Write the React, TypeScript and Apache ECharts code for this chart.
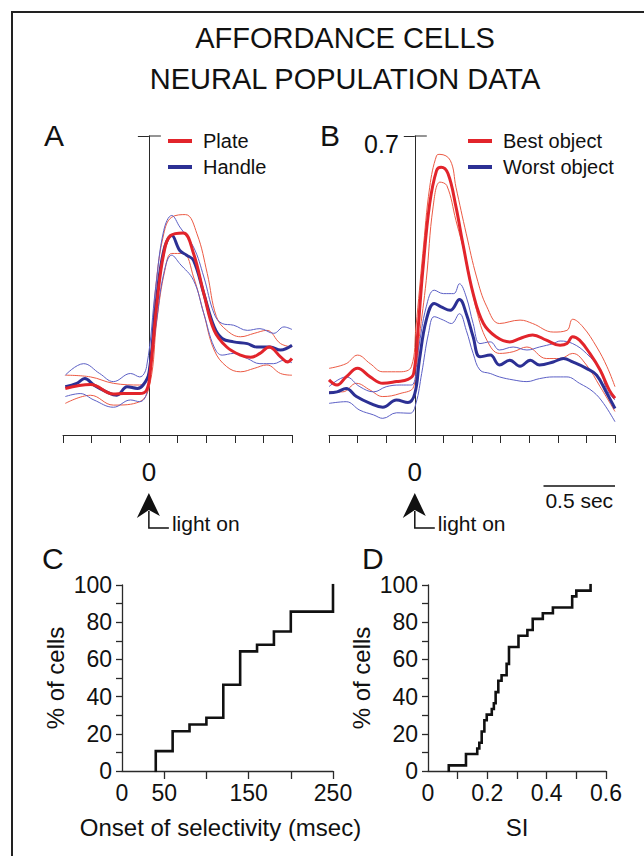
import React, { useEffect, useRef } from 'react';
import * as echarts from 'echarts';

const FONT = '"Liberation Sans", Arial, Helvetica, sans-serif';
const INK = '#111111';
const AXIS = '#2a2a2a';
const RED = '#e2242b';
const RED_THIN = '#ec5a44';
const BLUE = '#2c3094';
const BLUE_THIN = '#5c60c6';

type P = [number, number];

// ---- Panel A: time from light on (ms), population activity ----
const A_plate: P[] = [[-584,0.109],[-408,0.118],[-248,0.096],[-176,0.097],[-64,0.097],[-16,0.105],[8,0.144],[56,0.308],[104,0.425],[152,0.467],[240,0.473],[312,0.425],[384,0.331],[456,0.245],[544,0.206],[640,0.187],[712,0.182],[776,0.191],[840,0.206],[920,0.183],[968,0.171],[1000,0.179]];
const A_plateHi: P[] = [[-584,0.140],[-408,0.136],[-248,0.121],[-64,0.117],[0,0.152],[48,0.347],[104,0.471],[160,0.510],[256,0.516],[336,0.471],[408,0.378],[472,0.277],[544,0.245],[640,0.230],[736,0.238],[824,0.245],[920,0.214],[1000,0.206]];
const A_plateLo: P[] = [[-584,0.074],[-408,0.093],[-248,0.070],[-64,0.078],[8,0.121],[56,0.269],[112,0.386],[160,0.425],[240,0.425],[312,0.370],[384,0.284],[456,0.199],[544,0.160],[640,0.148],[736,0.156],[824,0.164],[920,0.144],[1000,0.140]];
const A_handle: P[] = [[-584,0.113],[-504,0.121],[-448,0.132],[-384,0.117],[-296,0.101],[-224,0.093],[-152,0.113],[-80,0.109],[-40,0.117],[0,0.144],[48,0.300],[104,0.432],[160,0.467],[216,0.432],[264,0.421],[312,0.409],[384,0.331],[456,0.253],[512,0.226],[592,0.218],[688,0.214],[752,0.206],[848,0.206],[920,0.199],[1000,0.210]];
const A_handleHi: P[] = [[-584,0.140],[-456,0.167],[-344,0.144],[-248,0.125],[-128,0.144],[-64,0.136],[-16,0.160],[48,0.347],[104,0.479],[160,0.514],[216,0.487],[312,0.440],[384,0.370],[456,0.284],[512,0.261],[592,0.257],[688,0.245],[776,0.249],[872,0.238],[944,0.253],[1000,0.247]];
const A_handleLo: P[] = [[-584,0.090],[-480,0.097],[-384,0.082],[-248,0.065],[-128,0.082],[-64,0.078],[-16,0.097],[48,0.253],[104,0.378],[160,0.421],[216,0.401],[312,0.362],[384,0.284],[456,0.206],[512,0.187],[592,0.191],[688,0.179],[776,0.167],[872,0.167],[944,0.175],[1000,0.169]];

// ---- Panel B ----
const B_best: P[] = [[-600,0.129],[-544,0.117],[-480,0.136],[-400,0.156],[-312,0.136],[-224,0.121],[-128,0.125],[-48,0.130],[-8,0.144],[24,0.253],[56,0.386],[104,0.541],[152,0.619],[184,0.627],[232,0.612],[288,0.534],[336,0.448],[408,0.331],[480,0.261],[568,0.230],[664,0.218],[736,0.226],[824,0.234],[920,0.222],[1016,0.210],[1064,0.214],[1104,0.230],[1152,0.222],[1224,0.191],[1296,0.152],[1360,0.105],[1400,0.086]];
const B_bestHi: P[] = [[-600,0.156],[-480,0.167],[-400,0.187],[-312,0.167],[-224,0.148],[-104,0.148],[-24,0.160],[8,0.253],[56,0.425],[104,0.580],[152,0.654],[176,0.657],[248,0.643],[288,0.580],[360,0.471],[432,0.370],[504,0.300],[592,0.261],[736,0.269],[824,0.261],[968,0.241],[1064,0.245],[1104,0.271],[1176,0.253],[1272,0.206],[1344,0.160],[1400,0.113]];
const B_bestLo: P[] = [[-600,0.101],[-504,0.101],[-408,0.121],[-312,0.105],[-224,0.090],[-104,0.097],[-8,0.113],[32,0.230],[80,0.362],[128,0.534],[176,0.592],[224,0.584],[288,0.502],[360,0.409],[432,0.292],[504,0.222],[592,0.191],[688,0.195],[784,0.206],[920,0.179],[1016,0.179],[1104,0.191],[1200,0.164],[1296,0.113],[1400,0.055]];
const B_worst: P[] = [[-600,0.099],[-544,0.101],[-480,0.109],[-408,0.090],[-312,0.074],[-224,0.065],[-128,0.082],[-48,0.076],[0,0.097],[32,0.175],[80,0.269],[136,0.308],[184,0.300],[248,0.292],[312,0.317],[360,0.284],[408,0.230],[456,0.183],[528,0.187],[592,0.164],[664,0.175],[736,0.161],[808,0.175],[872,0.164],[968,0.171],[1040,0.179],[1104,0.171],[1200,0.156],[1272,0.140],[1344,0.097],[1400,0.062]];
const B_worstHi: P[] = [[-600,0.113],[-480,0.136],[-384,0.113],[-288,0.101],[-200,0.113],[-104,0.117],[-24,0.117],[24,0.199],[80,0.300],[136,0.339],[200,0.331],[272,0.331],[312,0.354],[360,0.323],[408,0.261],[456,0.214],[528,0.218],[592,0.199],[688,0.206],[784,0.199],[872,0.206],[968,0.214],[1016,0.220],[1104,0.214],[1200,0.191],[1296,0.152],[1344,0.105],[1400,0.082]];
const B_worstLo: P[] = [[-600,0.074],[-480,0.078],[-384,0.058],[-288,0.047],[-224,0.039],[-128,0.052],[-32,0.051],[8,0.074],[48,0.144],[96,0.238],[136,0.277],[200,0.269],[256,0.261],[312,0.284],[360,0.245],[408,0.191],[456,0.152],[528,0.144],[592,0.136],[688,0.129],[784,0.125],[872,0.132],[968,0.136],[1064,0.136],[1152,0.121],[1248,0.101],[1320,0.074],[1400,0.031]];

// ---- Panel C: cumulative onset of selectivity ----
const C_onset = [40, 60, 80, 100, 120, 140, 160, 180, 200, 250];
const C_pct = [10.7, 21.4, 25.0, 28.6, 46.4, 64.3, 67.9, 75.0, 85.7, 100];

// ---- Panel D: cumulative selectivity index ----
const D_si = [0.07, 0.128, 0.166, 0.173, 0.181, 0.19, 0.198, 0.215, 0.222, 0.228, 0.237, 0.248, 0.265, 0.273, 0.305, 0.335, 0.353, 0.387, 0.421, 0.486, 0.5, 0.548];
const D_pct = [3.0, 9.1, 12.1, 15.2, 21.2, 27.3, 30.3, 33.3, 36.4, 42.4, 48.5, 51.5, 57.6, 66.7, 72.7, 75.8, 81.8, 84.8, 87.9, 93.9, 97.0, 100];

// tick / label values
const A_ticksX = { min: -600, max: 1000, interval: 200 };
const B_ticksX = { min: -600, max: 1400, interval: 200 };
const AB_yTop = 0.7;
const C_xTicks = [50, 100, 150, 200, 250];
const C_xLabels = [0, 50, 150, 250];
const D_xTicks = [0.1, 0.2, 0.3, 0.4, 0.5, 0.6];
const D_xLabels = [0, 0.2, 0.4, 0.6];
const CD_yLabels = [0, 20, 40, 60, 80, 100];
const SCALE_BAR_MS = [900, 1400];

const cum = (xs: number[], ys: number[]): P[] => [[xs[0], 0], ...xs.map((x, i) => [x, ys[i]] as P)];

export default function App() {
  const ref = useRef<HTMLDivElement>(null);
  useEffect(() => {
    document.body.style.margin = '0';
    const chart = echarts.init(ref.current!, null, { renderer: 'svg' });

    const axisLine = { lineStyle: { color: AXIS, width: 1 } };
    const txt = (size: number) => ({ color: INK, fontFamily: FONT, fontSize: size });

    const timeX = (grid: number, r: { min: number; max: number; interval: number }) => ({
      type: 'value', gridIndex: grid, min: r.min, max: r.max, interval: r.interval,
      axisLine: { show: true, onZero: false, ...axisLine },
      axisTick: { show: true, length: 8, lineStyle: { color: AXIS, width: 1 } },
      axisLabel: { show: true, customValues: [0], formatter: (v: number) => String(v), margin: 24, ...txt(26) },
      splitLine: { show: false },
    });
    const actY = (grid: number, xIdx: number) => ({
      type: 'value', gridIndex: grid, min: 0, max: AB_yTop, position: 'left',
      axisLine: { show: true, onZero: true, onZeroAxisIndex: xIdx, ...axisLine },
      axisTick: { show: true, inside: false, length: 11, customValues: [AB_yTop], lineStyle: { color: AXIS, width: 1 } },
      axisLabel: { show: false },
      splitLine: { show: false },
    });
    const pctY = (grid: number) => ({
      type: 'value', gridIndex: grid, min: 0, max: 100, interval: 10,
      axisLine: { show: true, onZero: false, lineStyle: { color: AXIS, width: 1.3 } },
      axisTick: { show: true, length: 6, lineStyle: { color: AXIS, width: 1.3 } },
      axisLabel: { show: true, customValues: CD_yLabels, margin: 10, ...txt(23) },
      splitLine: { show: false },
      name: '% of cells', nameLocation: 'middle', nameRotate: 90, nameGap: 55,
      nameTextStyle: txt(24),
    });

    const ln = (name: string, data: P[], xi: number, yi: number, color: string, width: number, z: number) => ({
      type: 'line', name, data, xAxisIndex: xi, yAxisIndex: yi, smooth: 0.4, symbol: 'none', showSymbol: false,
      lineStyle: { color, width }, itemStyle: { color }, silent: true, z, clip: false,
    });
    const stepLine = (data: P[], xi: number, yi: number) => ({
      type: 'line', data, xAxisIndex: xi, yAxisIndex: yi, step: 'end', symbol: 'none', showSymbol: false,
      lineStyle: { color: INK, width: 2.6, join: 'miter', cap: 'square' }, silent: true, z: 3,
    });

    const legend = (names: string[], left: number) => ({
      data: names, left, top: 126, orient: 'vertical', icon: 'rect', itemWidth: 24, itemHeight: 4, itemGap: 6,
      padding: 5, selectedMode: false,
      textStyle: { ...txt(20), lineHeight: 20, padding: [0, 0, 0, 6] },
    });

    chart.setOption({
      animation: false,
      backgroundColor: '#ffffff',
      textStyle: { fontFamily: FONT },
      grid: [
        { left: 63, top: 136, width: 229, height: 299, outerBoundsMode: 'none' },
        { left: 329, top: 136, width: 286, height: 299, outerBoundsMode: 'none' },
        { left: 122, top: 585, width: 211, height: 186, outerBoundsMode: 'none' },
        { left: 428, top: 585, width: 178, height: 186, outerBoundsMode: 'none' },
      ],
      xAxis: [
        timeX(0, A_ticksX),
        timeX(1, B_ticksX),
        {
          type: 'value', gridIndex: 2, min: 0, max: 250, interval: 50,
          axisLine: { show: true, onZero: false, lineStyle: { color: AXIS, width: 1.3 } },
          axisTick: { show: true, length: 8, customValues: C_xTicks, lineStyle: { color: AXIS, width: 1.3 } },
          axisLabel: { show: true, customValues: C_xLabels, margin: 10, ...txt(23) },
          splitLine: { show: false },
          name: 'Onset of selectivity (msec)', nameLocation: 'middle', nameGap: 44,
          nameTextStyle: { ...txt(24), padding: [0, 14, 0, 0] },
        },
        {
          type: 'value', gridIndex: 3, min: 0, max: 0.6, interval: 0.1,
          axisLine: { show: true, onZero: false, lineStyle: { color: AXIS, width: 1.3 } },
          axisTick: { show: true, length: 8, customValues: D_xTicks, lineStyle: { color: AXIS, width: 1.3 } },
          axisLabel: { show: true, customValues: D_xLabels, margin: 10, formatter: (v: number) => (v === 0 ? '0' : v.toFixed(1)), ...txt(23) },
          splitLine: { show: false },
          name: 'SI', nameLocation: 'middle', nameGap: 44, nameTextStyle: txt(24),
        },
      ],
      yAxis: [
        actY(0, 0),
        actY(1, 1),
        pctY(2),
        pctY(3),
      ],
      legend: [legend(['Plate', 'Handle'], 163), legend(['Best object', 'Worst object'], 463)],
      series: [
        ln('Plate SE+', A_plateHi, 0, 0, RED_THIN, 1, 2),
        ln('Plate SE-', A_plateLo, 0, 0, RED_THIN, 1, 2),
        ln('Handle SE+', A_handleHi, 0, 0, BLUE_THIN, 1, 2),
        ln('Handle SE-', A_handleLo, 0, 0, BLUE_THIN, 1, 2),
        ln('Handle', A_handle, 0, 0, BLUE, 3, 3),
        ln('Plate', A_plate, 0, 0, RED, 3, 4),
        ln('Best SE+', B_bestHi, 1, 1, RED_THIN, 1, 2),
        ln('Best SE-', B_bestLo, 1, 1, RED_THIN, 1, 2),
        ln('Worst SE+', B_worstHi, 1, 1, BLUE_THIN, 1, 2),
        ln('Worst SE-', B_worstLo, 1, 1, BLUE_THIN, 1, 2),
        ln('Worst object', B_worst, 1, 1, BLUE, 3, 3),
        ln('Best object', B_best, 1, 1, RED, 3, 4),
        stepLine(cum(C_onset, C_pct), 2, 2),
        stepLine(cum(D_si, D_pct), 3, 3),
      ],
    });

    const px = (xi: number, yi: number, v: P) => chart.convertToPixel({ xAxisIndex: xi, yAxisIndex: yi }, v) as number[];
    const pA = px(0, 0, [0, 0]);
    const pB = px(1, 1, [0, 0]);
    const tA = px(0, 0, [0, AB_yTop]);
    const tB = px(1, 1, [0, AB_yTop]);
    const s0 = px(1, 1, [SCALE_BAR_MS[0], 0]);
    const s1 = px(1, 1, [SCALE_BAR_MS[1], 0]);

    const lightOn = (x: number, y: number) => [
      { type: 'polygon', shape: { points: [[x, y + 58], [x + 11, y + 81], [x, y + 75], [x - 12, y + 83]] }, style: { fill: INK } },
      { type: 'polyline', shape: { points: [[x, y + 76], [x, y + 93], [x + 20, y + 93]] }, style: { stroke: INK, lineWidth: 1.5, fill: 'none' } },
      { type: 'text', x: x + 23, y: y + 88, style: { text: 'light on', fill: INK, fontFamily: FONT, fontSize: 21, align: 'left', verticalAlign: 'middle' } },
    ];
    const halfTick = (p: number[]) => ({ type: 'line', shape: { x1: p[0], y1: p[1], x2: p[0] + 12, y2: p[1] }, style: { stroke: AXIS, lineWidth: 1 } });
    const letter = (t: string, x: number, y: number) => ({
      type: 'text', x, y, style: { text: t, fill: INK, fontFamily: FONT, fontSize: 30, lineHeight: 30, align: 'left', verticalAlign: 'top' },
    });

    chart.setOption({
      graphic: {
        elements: [
          { type: 'rect', shape: { x: 12, y: 12, width: 700, height: 900 }, style: { fill: 'none', stroke: '#222', lineWidth: 2 }, silent: true },
          {
            type: 'text', x: 345, y: 17,
            style: { text: 'AFFORDANCE CELLS\nNEURAL POPULATION DATA', fill: INK, fontFamily: FONT, fontSize: 29, lineHeight: 41, align: 'center', verticalAlign: 'top' },
          },
          letter('A', 44, 120),
          letter('B', 320, 120),
          letter('C', 42, 543),
          letter('D', 362, 543),
          halfTick(tA),
          halfTick(tB),
          { type: 'text', x: tB[0] - 16, y: tB[1] - 5, style: { text: String(AB_yTop), fill: INK, fontFamily: FONT, fontSize: 25, lineHeight: 25, align: 'right', verticalAlign: 'top' } },
          ...lightOn(pA[0], pA[1]),
          ...lightOn(pB[0], pB[1]),
          { type: 'line', shape: { x1: s0[0], y1: s0[1] + 51, x2: s1[0], y2: s1[1] + 51 }, style: { stroke: INK, lineWidth: 1.3 } },
          { type: 'text', x: (s0[0] + s1[0]) / 2, y: s0[1] + 55, style: { text: '0.5 sec', fill: INK, fontFamily: FONT, fontSize: 21, align: 'center', verticalAlign: 'top' } },
        ],
      },
    });

    return () => chart.dispose();
  }, []);
  return <div ref={ref} style={{ width: 644, height: 856 }} />;
}
